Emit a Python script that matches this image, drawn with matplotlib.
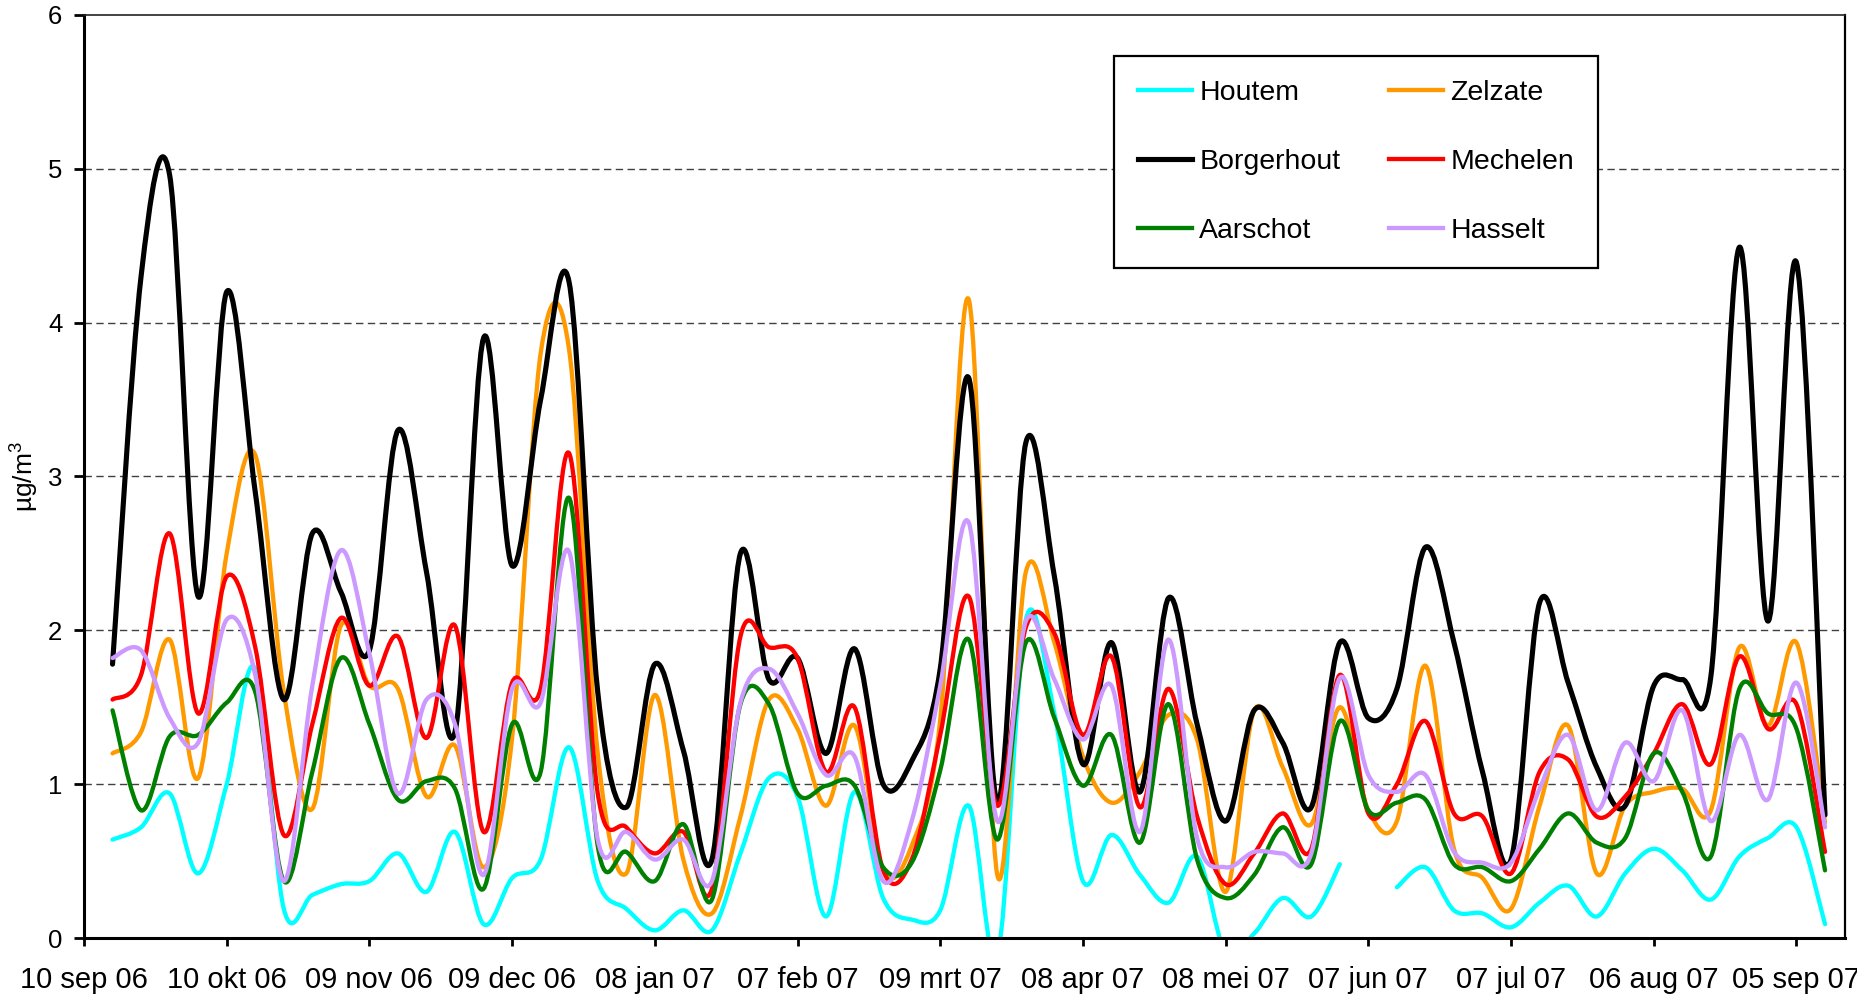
import numpy as np
import pandas as pd
import matplotlib
matplotlib.use("Agg")
import matplotlib.pyplot as plt
import matplotlib.dates as mdates
from matplotlib.path import Path
from matplotlib.patches import PathPatch
from matplotlib.lines import Line2D

plt.rcParams['font.family'] = ['Liberation Sans', 'DejaVu Sans']
plt.rcParams['mathtext.fontset'] = 'custom'
plt.rcParams['mathtext.rm'] = 'Liberation Sans'
plt.rcParams['mathtext.it'] = 'Liberation Sans'

# sampling dates: one sample every 6 days
dates = pd.date_range('2006-09-16', periods=61, freq='6D')

houtem = [0.64, 0.72, 0.94, 0.42, 1.0, 1.75, 0.19, 0.28, 0.35, 0.37,
          0.55, 0.3, 0.69, 0.09, 0.39, 0.51, 1.24, 0.37, 0.19, 0.05,
          0.18, 0.05, 0.55, 1.04, 0.92, 0.14, 0.95, 0.26, 0.12, 0.18,
          0.86, -0.12, 2.07, 1.46, 0.37, 0.67, 0.41, 0.23, 0.53, -0.1,
          0.03, 0.26, 0.14, 0.48, np.nan, 0.33, 0.46, 0.18, 0.16, 0.07,
          0.23, 0.34, 0.14, 0.42, 0.58, 0.44, 0.25, 0.53, 0.65, 0.72,
          0.09]
zelzate = [1.2, 1.34, 1.94, 1.04, 2.5, 3.14, 1.6, 0.84, 2.03, 1.64,
           1.62, 0.92, 1.25, 0.46, 1.3, 3.8, 3.82, 1.2, 0.42, 1.58,
           0.51, 0.16, 0.79, 1.55, 1.36, 0.86, 1.38, 0.44, 0.6, 1.42,
           4.15, 0.41, 2.38, 1.92, 1.18, 0.88, 1.08, 1.45, 1.29, 0.3,
           1.48, 1.11, 0.74, 1.5, 0.83, 0.76, 1.77, 0.58, 0.39, 0.19,
           0.86, 1.38, 0.42, 0.86, 0.95, 0.97, 0.83, 1.89, 1.38, 1.92,
           0.75]
borgerhout = [1.78, 4.3, 4.96, 2.22, 4.2, 2.9, 1.55, 2.63, 2.25, 1.87,
              3.3, 2.38, 1.34, 3.9, 2.42, 3.5, 4.26, 1.6, 0.85, 1.78,
              1.22, 0.51, 2.5, 1.68, 1.82, 1.2, 1.88, 1.0, 1.15, 1.75,
              3.64, 0.88, 3.22, 2.35, 1.13, 1.92, 0.95, 2.21, 1.39, 0.76,
              1.48, 1.27, 0.85, 1.92, 1.43, 1.62, 2.54, 1.92, 1.08, 0.51,
              2.18, 1.66, 1.11, 0.86, 1.64, 1.68, 1.7, 4.49, 2.06, 4.39,
              0.8]
mechelen = [1.55, 1.71, 2.63, 1.46, 2.35, 1.89, 0.67, 1.39, 2.08, 1.64,
            1.96, 1.3, 2.03, 0.69, 1.66, 1.62, 3.15, 0.94, 0.72, 0.55,
            0.69, 0.32, 1.96, 1.89, 1.82, 1.08, 1.5, 0.44, 0.51, 1.32,
            2.22, 0.86, 2.02, 1.98, 1.32, 1.83, 0.85, 1.62, 0.79, 0.35,
            0.55, 0.81, 0.58, 1.71, 0.81, 1.0, 1.41, 0.81, 0.79, 0.42,
            1.08, 1.16, 0.79, 0.92, 1.2, 1.52, 1.13, 1.83, 1.36, 1.52,
            0.56]
aarschot = [1.48, 0.83, 1.31, 1.32, 1.53, 1.6, 0.37, 1.08, 1.82, 1.39,
            0.9, 1.02, 0.97, 0.32, 1.39, 1.08, 2.86, 0.6, 0.56, 0.37,
            0.74, 0.25, 1.52, 1.52, 0.94, 0.99, 0.99, 0.46, 0.49, 1.09,
            1.94, 0.64, 1.92, 1.43, 0.99, 1.32, 0.62, 1.52, 0.51, 0.26,
            0.41, 0.72, 0.48, 1.41, 0.83, 0.88, 0.9, 0.48, 0.46, 0.37,
            0.58, 0.81, 0.62, 0.65, 1.2, 0.95, 0.53, 1.62, 1.46, 1.36,
            0.44]
hasselt = [1.82, 1.87, 1.43, 1.27, 2.07, 1.71, 0.37, 1.64, 2.52, 1.85,
           0.94, 1.55, 1.39, 0.41, 1.62, 1.53, 2.51, 0.64, 0.69, 0.51,
           0.64, 0.37, 1.53, 1.75, 1.46, 1.06, 1.18, 0.37, 0.76, 1.64,
           2.7, 0.76, 2.06, 1.68, 1.29, 1.64, 0.69, 1.94, 0.65, 0.46,
           0.56, 0.55, 0.55, 1.69, 1.06, 0.95, 1.06, 0.56, 0.49, 0.49,
           0.97, 1.32, 0.83, 1.27, 1.02, 1.48, 0.76, 1.32, 0.9, 1.66,
           0.72]

tick_dates = ['2006-09-10', '2006-10-10', '2006-11-09', '2006-12-09', '2007-01-08',
              '2007-02-07', '2007-03-09', '2007-04-08', '2007-05-08', '2007-06-07',
              '2007-07-07', '2007-08-06', '2007-09-05']
tick_labels = ['10 sep 06', '10 okt 06', '09 nov 06', '09 dec 06', '08 jan 07',
               '07 feb 07', '09 mrt 07', '08 apr 07', '08 mei 07', '07 jun 07',
               '07 jul 07', '06 aug 07', '05 sep 07']

# draw order as in the workbook (later on top)
series = [('Houtem', houtem, '#00FFFF', 3.1),
          ('Zelzate', zelzate, '#FF9900', 3.1),
          ('Borgerhout', borgerhout, '#000000', 3.7),
          ('Mechelen', mechelen, '#FF0000', 3.1),
          ('Aarschot', aarschot, '#008000', 3.1),
          ('Hasselt', hasselt, '#CC99FF', 3.1)]


def smooth_path(x, y):
    # Catmull-Rom style bezier, like Excel's "smoothed line"
    verts, codes = [], []
    x = np.asarray(x, float)
    y = np.asarray(y, float)
    ok = ~np.isnan(y)
    runs, cur = [], []
    for i in range(len(y)):
        if ok[i]:
            cur.append(i)
        elif cur:
            runs.append(cur)
            cur = []
    if cur:
        runs.append(cur)
    for r in runs:
        p = np.column_stack([x[r], y[r]])
        n = len(p)
        verts.append(p[0])
        codes.append(Path.MOVETO)
        for i in range(n - 1):
            p0 = p[i - 1] if i > 0 else p[i]
            p1, p2 = p[i], p[i + 1]
            p3 = p[i + 2] if i + 2 < n else p[i + 1]
            verts += [p1 + (p2 - p0) / 6.0, p2 - (p3 - p1) / 6.0, p2]
            codes += [Path.CURVE4] * 3
    return Path(verts, codes)


fig = plt.figure(figsize=(18.58, 9.96), dpi=100)
ax = fig.add_axes([0.0452, 0.0582, 0.9478, 0.9268])

xnum = mdates.date2num(dates)
handles = {}
for name, vals, col, lw in series:
    patch = PathPatch(smooth_path(xnum, vals), facecolor='none', edgecolor=col,
                      lw=lw, joinstyle='round', capstyle='round')
    ax.add_patch(patch)
    handles[name] = Line2D([], [], color=col, lw=lw)

x0 = mdates.date2num(pd.Timestamp('2006-09-10'))
ax.set_xlim(x0, x0 + 370.2)
ax.set_ylim(0, 6)

ax.set_xticks(mdates.date2num(pd.to_datetime(tick_dates)))
ax.set_xticklabels(tick_labels, fontsize=21)
ax.set_yticks(range(0, 7))
ax.tick_params(axis='y', labelsize=18.5, direction='out', length=7.5, width=2, pad=8)
ax.tick_params(axis='x', direction='out', length=6, width=2, pad=14)

for v in range(1, 6):
    ax.axhline(v, color='#404040', lw=1, linestyle=(0, (5.3, 3.2)), zorder=0)

ax.spines['left'].set_linewidth(2.2)
ax.spines['bottom'].set_linewidth(2.2)
ax.spines['top'].set_linewidth(1.2)
ax.spines['top'].set_color('#222222')
ax.spines['right'].set_linewidth(1.6)

ax.set_ylabel('µg/m$^3$', fontsize=19, labelpad=5)

order = ['Houtem', 'Borgerhout', 'Aarschot', 'Zelzate', 'Mechelen', 'Hasselt']
leg = ax.legend([handles[k] for k in order], order, ncol=2, loc='upper left',
                bbox_to_anchor=(1114 / 1858, 1 - 56 / 996), bbox_transform=fig.transFigure,
                fontsize=20.5, frameon=True, fancybox=False, framealpha=1,
                edgecolor='black', borderpad=0.85, borderaxespad=0,
                handlelength=1.9, handletextpad=0.25, columnspacing=1.7,
                labelspacing=1.5)
leg.get_frame().set_linewidth(1.6)

fig.savefig('out.png', dpi=100)
